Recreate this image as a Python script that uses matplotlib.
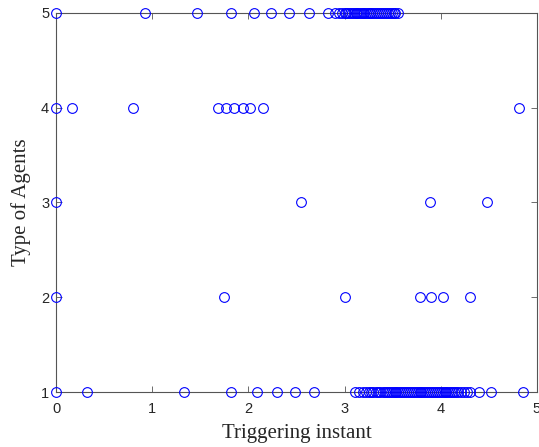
import matplotlib.pyplot as plt

# triggering instants per agent type
t_type5 = [0.0, 0.92, 1.47, 1.82, 2.06, 2.24, 2.42, 2.63, 2.83, 2.90, 2.94,
           2.97, 3.00, 3.02, 3.04, 3.06, 3.08, 3.10, 3.12, 3.13, 3.15, 3.17,
           3.19, 3.20, 3.22, 3.24, 3.26, 3.27, 3.29, 3.31, 3.33, 3.35, 3.37,
           3.39, 3.41, 3.43, 3.45, 3.47, 3.49, 3.51, 3.53, 3.56]
t_type4 = [0.0, 0.17, 0.80, 1.68, 1.77, 1.85, 1.94, 2.02, 2.15, 4.81]
t_type3 = [0.0, 2.55, 3.89, 4.48]
t_type2 = [0.0, 1.75, 3.00, 3.78, 3.90, 4.02, 4.30]
t_type1 = [0.0, 0.32, 1.33, 1.82, 2.09, 2.30, 2.49, 2.68,
           3.11, 3.15, 3.19, 3.22, 3.25, 3.28, 3.30, 3.33, 3.35, 3.37, 3.40,
           3.42, 3.44, 3.46, 3.48, 3.50, 3.52, 3.54, 3.56, 3.58, 3.60, 3.62,
           3.64, 3.66, 3.68, 3.70, 3.72, 3.74, 3.76, 3.78, 3.80, 3.82, 3.84,
           3.86, 3.88, 3.90, 3.92, 3.94, 3.96, 3.98, 4.00, 4.02, 4.04, 4.06,
           4.08, 4.10, 4.12, 4.14, 4.16, 4.18, 4.21, 4.24, 4.27, 4.30,
           4.40, 4.52, 4.86]

series = {5: t_type5, 4: t_type4, 3: t_type3, 2: t_type2, 1: t_type1}

fig = plt.figure(figsize=(5.39, 4.47), dpi=100)
ax = fig.add_axes([0.104, 0.123, 0.892, 0.848])

for agent_type, times in series.items():
    ax.plot(times, [agent_type] * len(times), linestyle="none", marker="o",
            markersize=7, markerfacecolor="none", markeredgecolor="blue",
            markeredgewidth=0.8, clip_on=False, zorder=3)

ax.set_xlim(0, 5)
ax.set_ylim(1, 5)
ax.set_xticks([0, 1, 2, 3, 4, 5])
ax.set_yticks([1, 2, 3, 4, 5])

axis_color = "#555555"
for sp in ax.spines.values():
    sp.set_color(axis_color)
    sp.set_linewidth(0.8)
ax.tick_params(direction="in", top=True, right=True, length=4, width=0.6,
               color=axis_color, labelcolor="#262626", labelsize=10.5)
ax.tick_params(axis="x", pad=7)
ax.tick_params(axis="y", pad=5)
for lbl in ax.get_xticklabels() + ax.get_yticklabels():
    lbl.set_family("Liberation Sans")

ax.set_xlabel("Triggering instant", family="Liberation Serif", fontsize=15,
              color="#262626", labelpad=6)
ax.set_ylabel("Type of Agents", family="Liberation Serif", fontsize=15,
              color="#262626", labelpad=7)

fig.savefig("out.png", dpi=100)
plt.close(fig)
